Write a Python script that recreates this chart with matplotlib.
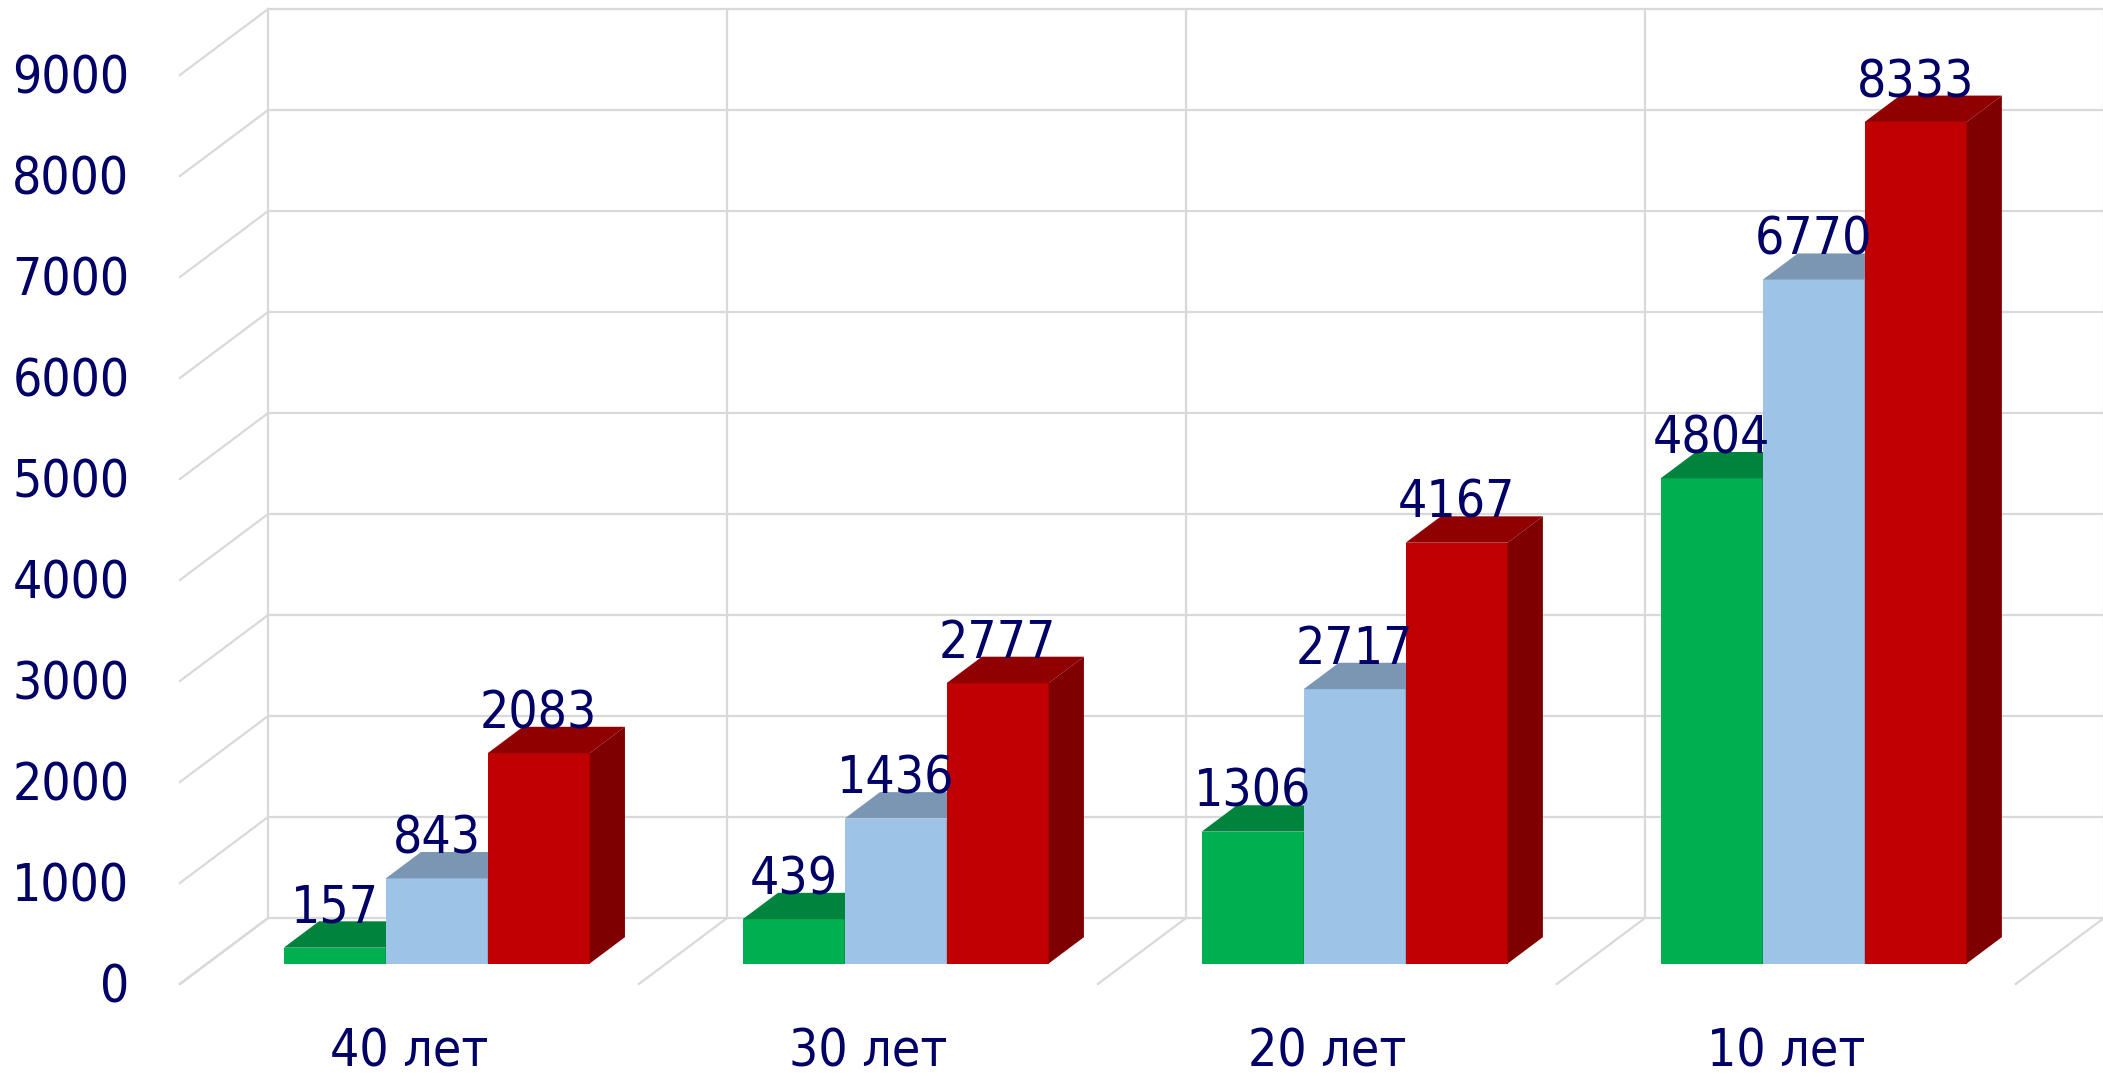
import matplotlib
matplotlib.use('Agg')
import matplotlib.pyplot as plt
from matplotlib.patches import Polygon

# data
categories = ['40 лет', '30 лет', '20 лет', '10 лет']
green_vals = [157, 439, 1306, 4804]
blue_vals = [843, 1436, 2717, 6770]
red_vals = [2083, 2777, 4167, 8333]
y_ticks = [0, 1000, 2000, 3000, 4000, 5000, 6000, 7000, 8000, 9000]

series = [green_vals, blue_vals, red_vals]
# front, top, side colours for each series
colors = [('#00B050', '#00843D', '#006B32'),
          ('#9DC3E6', '#7A96B3', '#5F7C99'),
          ('#C00000', '#900000', '#7F0000')]

txt_color = '#000066'
grid_color = '#D9D9D9'
fsize = 37

# oblique depth (in data units) of the whole floor / walls
DX = 0.192
DY = 653
z0, z1 = 0.31, 0.71   # depth band occupied by the bars
bar_w = 1 / 4.5        # gap width 150%

fig = plt.figure(figsize=(21.03, 10.77), dpi=100)
ax = fig.add_axes([0, 0, 1, 1])
ax.set_xlim(-0.392, 4.19)
ax.set_ylim(-921, 9743)
ax.axis('off')

n = len(categories)
ymax = y_ticks[-1]

# walls and floor grid
for t in y_ticks:
    ax.plot([0, DX], [t, t + DY], color=grid_color, lw=1.6, zorder=1)
    ax.plot([DX, n + DX + 0.5], [t + DY, t + DY], color=grid_color, lw=1.6, zorder=1)
for i in range(n + 1):
    ax.plot([i + DX, i + DX], [DY, ymax + DY], color=grid_color, lw=1.6, zorder=1)
    ax.plot([i, i + DX], [0, DY], color=grid_color, lw=1.6, zorder=1)

# bars
for i in range(n):
    for j, vals in enumerate(series):
        v = vals[i]
        front, top, side = colors[j]
        x0 = i + 0.75 * bar_w + j * bar_w + z0 * DX
        y0 = z0 * DY
        x1 = x0 + bar_w
        ddx = (z1 - z0) * DX
        ddy = (z1 - z0) * DY
        ax.add_patch(Polygon([(x0, y0), (x1, y0), (x1, y0 + v), (x0, y0 + v)],
                             closed=True, fc=front, ec='none', zorder=2))
        ax.add_patch(Polygon([(x0, y0 + v), (x1, y0 + v), (x1 + ddx, y0 + v + ddy),
                              (x0 + ddx, y0 + v + ddy)],
                             closed=True, fc=top, ec='none', zorder=2))
        ax.add_patch(Polygon([(x1, y0), (x1 + ddx, y0 + ddy), (x1 + ddx, y0 + v + ddy),
                              (x1, y0 + v)],
                             closed=True, fc=side, ec='none', zorder=2))
        ax.text((x0 + x1) / 2, z1 * DY + v - 15, str(v), color=txt_color,
                fontsize=fsize, fontstretch='condensed', ha='center', va='baseline',
                zorder=5)

# y tick labels
for t in y_ticks:
    ax.text(-0.11, t - 40, str(t), color=txt_color, fontsize=fsize,
            fontstretch='condensed', ha='right', va='center')

# category labels
for i, c in enumerate(categories):
    ax.text(i + 0.5, -680, c, color=txt_color, fontsize=fsize,
            fontstretch='condensed', ha='center', va='center')

fig.savefig('out.png', dpi=100)
